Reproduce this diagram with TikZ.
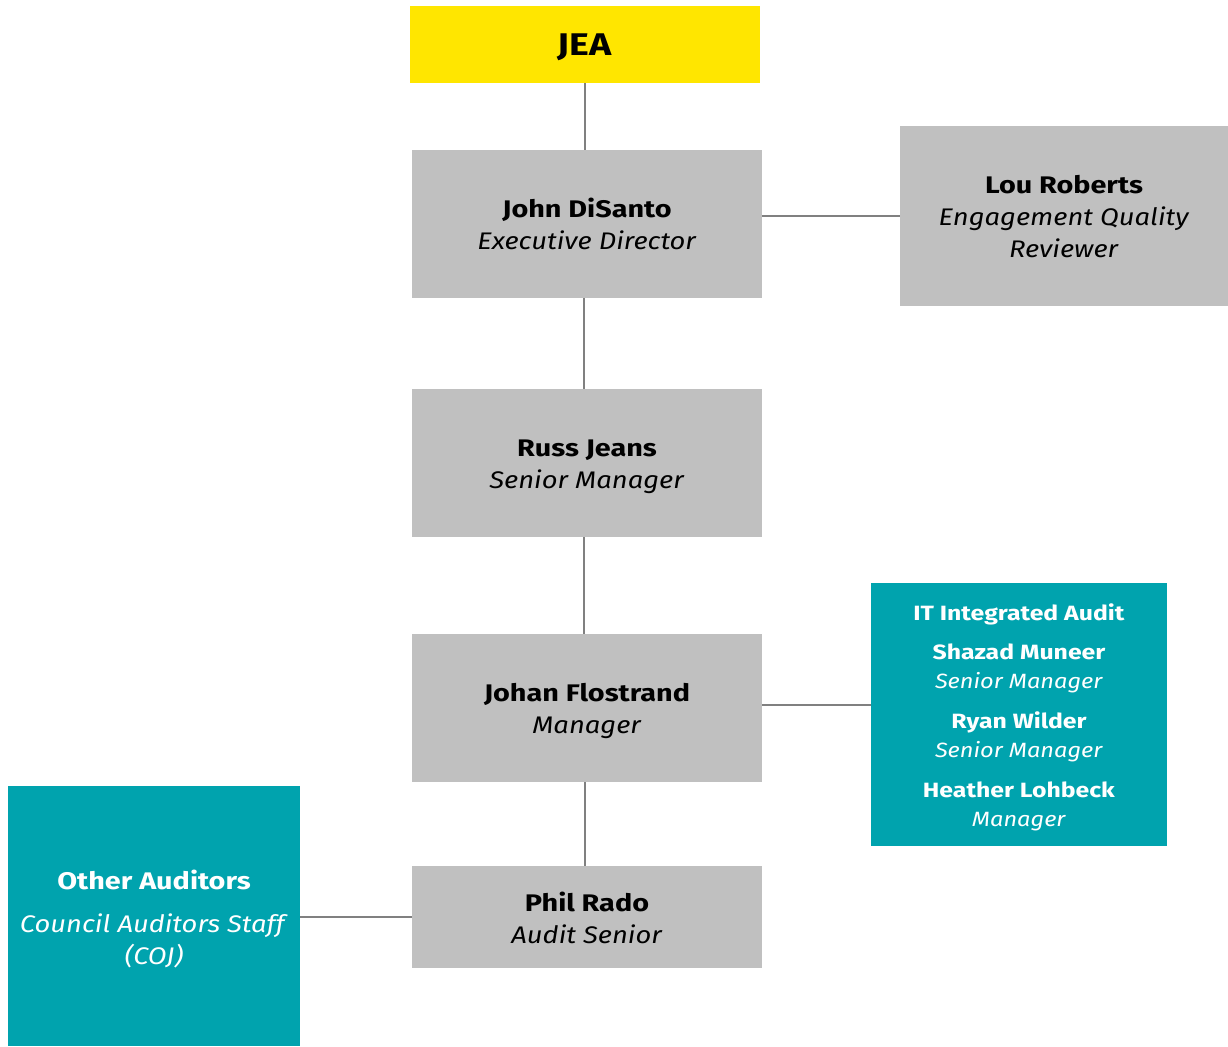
\documentclass[tikz,border=0pt]{standalone}
\usepackage{fontspec}
\setmainfont{Fira Sans}[BoldFeatures={FakeStretch=1.2}, ItalicFeatures={FakeStretch=1.14}]
\definecolor{eyyellow}{HTML}{FFE600}
\definecolor{boxgray}{HTML}{C0C0C0}
\definecolor{eyteal}{HTML}{00A3AE}
\definecolor{linegray}{HTML}{808080}
\begin{document}
\begin{tikzpicture}[x=0.75pt,y=-0.75pt,
  box/.style={rectangle, inner sep=0pt},
  graybox/.style={box, fill=boxgray},
  tealbox/.style={box, fill=eyteal},
  txt/.style={inner sep=0pt, align=center, font=\fontsize{18}{24}\selectfont, text=black},
  wtxt/.style={txt, text=white},
  smalltext/.style={font=\fontsize{15.5}{21.75}\selectfont},
  link/.style={draw=linegray, line width=1.1pt}]
\useasboundingbox (0,0) rectangle (1228,1046);

% boxes
\node[box, fill=eyyellow, minimum width=262.5pt, minimum height=57.75pt] (jea) at (585,44.5) {};
\node[graybox, minimum width=262.5pt, minimum height=111pt] (disanto) at (587,224) {};
\node[graybox, minimum width=246pt, minimum height=135pt] (lou) at (1064,216) {};
\node[graybox, minimum width=262.5pt, minimum height=111pt] (russ) at (587,463) {};
\node[graybox, minimum width=262.5pt, minimum height=111pt] (johan) at (587,708) {};
\node[tealbox, minimum width=222pt, minimum height=197.25pt] (it) at (1019,714.5) {};
\node[graybox, minimum width=262.5pt, minimum height=76.5pt] (phil) at (587,917) {};
\node[tealbox, minimum width=219pt, minimum height=195pt] (other) at (154,916) {};

% texts
\node[txt, font=\fontsize{23.5}{24}\selectfont] (jea-t) at ([yshift=-2pt]jea.center) {\textbf{JEA}};
\node[txt] (disanto-t) at (disanto.center) {\textbf{John DiSanto}\\\textit{Executive Director}};
\node[txt] (lou-t) at ([yshift=-0.5pt]lou.center) {\textbf{Lou Roberts}\\\textit{Engagement Quality}\\\textit{Reviewer}};
\node[txt] (russ-t) at ([yshift=-2.5pt]russ.center) {\textbf{Russ Jeans}\\\textit{Senior Manager}};
\node[txt] (johan-t) at ([yshift=-2.5pt]johan.center) {\textbf{Johan Flostrand}\\\textit{Manager}};
\node[wtxt, smalltext] (it-t) at ([yshift=-2pt]it.center)
  {\textbf{IT Integrated Audit}\\[8pt]
   \textbf{Shazad Muneer}\\\textit{Senior Manager}\\[8pt]
   \textbf{Ryan Wilder}\\\textit{Senior Manager}\\[8pt]
   \textbf{Heather Lohbeck}\\\textit{Manager}};
\node[txt] (phil-t) at ([yshift=-0.5pt]phil.center) {\textbf{Phil Rado}\\\textit{Audit Senior}};
\node[wtxt] (other-t) at ([yshift=-2.5pt]other.center)
  {\textbf{Other Auditors}\\[8pt]\textit{Council Auditors Staff}\\\textit{(COJ)}};

% connectors
\draw[link] (jea.south) -- (jea.south |- disanto.north);
\draw[link] ([xshift=-2.25pt]disanto.south) -- ([xshift=-2.25pt]russ.north);
\draw[link] ([xshift=-2.25pt]russ.south) -- ([xshift=-2.25pt]johan.north);
\draw[link] ([xshift=-1.5pt]johan.south) -- ([xshift=-1.5pt]phil.north);
\draw[link] (lou.west) -- (lou.west -| disanto.east);
\draw[link] ([yshift=2.25pt]johan.east) -- ([yshift=2.25pt]johan.east -| it.west);
\draw[link] (phil.west) -- (phil.west -| other.east);
\end{tikzpicture}
\end{document}
